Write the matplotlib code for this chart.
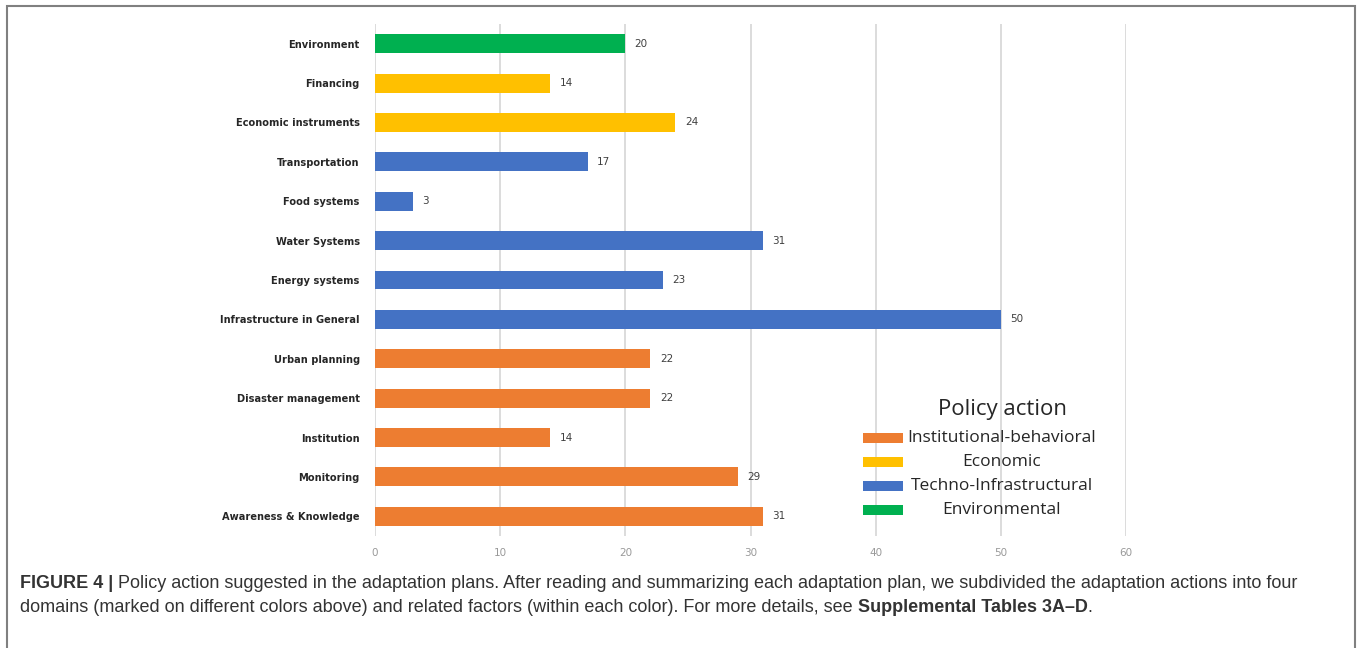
""" Horizontal bar chart of policy actions suggested in adaptation plans. """

import matplotlib
matplotlib.use('Agg')
import matplotlib.pyplot as plt
from matplotlib.patches import Rectangle

# Data, top to bottom as in the figure.
categories = ['Environment', 'Financing', 'Economic instruments', 'Transportation',
              'Food systems', 'Water Systems', 'Energy systems',
              'Infrastructure in General', 'Urban planning', 'Disaster management',
              'Institution', 'Monitoring', 'Awareness & Knowledge']
counts = [20, 14, 24, 17, 3, 31, 23, 50, 22, 22, 14, 29, 31]
domains = ['Environmental', 'Economic', 'Economic', 'Techno-Infrastructural',
           'Techno-Infrastructural', 'Techno-Infrastructural', 'Techno-Infrastructural',
           'Techno-Infrastructural', 'Institutional-behavioral',
           'Institutional-behavioral', 'Institutional-behavioral',
           'Institutional-behavioral', 'Institutional-behavioral']
legend_order = ['Institutional-behavioral', 'Economic', 'Techno-Infrastructural',
                'Environmental']
x_ticks = [0, 10, 20, 30, 40, 50, 60]

domain_colors = {'Institutional-behavioral': '#ED7D31', 'Economic': '#FFC000',
                 'Techno-Infrastructural': '#4472C4', 'Environmental': '#00B050'}

label_font = ['Liberation Sans Narrow', 'DejaVu Sans']

fig = plt.figure(figsize=(13.58, 6.48), dpi=100)
ax = fig.add_axes([375 / 1358, 112 / 648, 751 / 1358, 512 / 648])

# Bars: first category at the top.
ypos = list(range(len(categories)))[::-1]
ax.barh(ypos, counts, height=0.48, color=[domain_colors[d] for d in domains],
        edgecolor='none', zorder=2)
for y, v in zip(ypos, counts):
    ax.text(v + 0.75, y, str(v), va='center', ha='left', fontsize=7.5,
            color='#404040', family=label_font)

ax.set_xlim(0, 60)
ax.set_ylim(-0.5, len(categories) - 0.5)
ax.set_yticks(ypos)
ax.set_yticklabels(categories, fontsize=7.1, fontweight='bold', color='#262626',
                   family=label_font)
ax.set_xticks(x_ticks)
ax.set_xticklabels([str(t) for t in x_ticks], fontsize=7.5, color='#999999',
                   family=label_font)
ax.tick_params(axis='both', length=0)
ax.tick_params(axis='y', pad=11)
ax.tick_params(axis='x', pad=9)
ax.grid(axis='x', color='#d9d9d9', linewidth=1.3, zorder=0)
for s in ax.spines.values():
    s.set_visible(False)

# Legend drawn by hand so the labels can be centred like the original.
leg_font = ['Open Sans', 'DejaVu Sans']
fig.text(1002 / 1358, 1 - 410 / 648, 'Policy action', ha='center', va='center',
         fontsize=16, color='#262626', family=leg_font)
for i, name in enumerate(legend_order):
    yc = 1 - (438 + 24 * i) / 648
    fig.add_artist(Rectangle((863 / 1358, yc - 5 / 648), 40 / 1358, 10 / 648,
                             transform=fig.transFigure,
                             facecolor=domain_colors[name], edgecolor='none'))
    fig.text(1002 / 1358, yc, name, ha='center', va='center', fontsize=12.5,
             color='#262626', family=leg_font)

# Outer frame of the figure panel.
fig.add_artist(Rectangle((7 / 1358, -0.05), 1348 / 1358, 1.05 - 6 / 648,
                         transform=fig.transFigure, facecolor='none',
                         edgecolor='#808080', linewidth=1.5))

# Caption with mixed bold and regular parts.
fig.canvas.draw()
renderer = fig.canvas.get_renderer()
cap_font = ['Liberation Sans', 'DejaVu Sans']
cap_lines = [
    [('FIGURE 4 | ', 'bold'),
     ('Policy action suggested in the adaptation plans. After reading and summarizing '
      'each adaptation plan, we subdivided the adaptation actions into four', 'normal')],
    [('domains (marked on different colors above) and related factors (within each '
      'color). For more details, see ', 'normal'),
     ('Supplemental Tables 3A\u2013D', 'bold'), ('.', 'normal')],
]
for j, parts in enumerate(cap_lines):
    x = 20 / 1358
    yc = 1 - (583 + 24 * j) / 648
    for txt, wt in parts:
        t = fig.text(x, yc, txt, ha='left', va='center', fontsize=13,
                     fontweight=wt, color='#333333', family=cap_font)
        bb = t.get_window_extent(renderer)
        x += bb.width / 1358

fig.savefig('out.png', dpi=100)
